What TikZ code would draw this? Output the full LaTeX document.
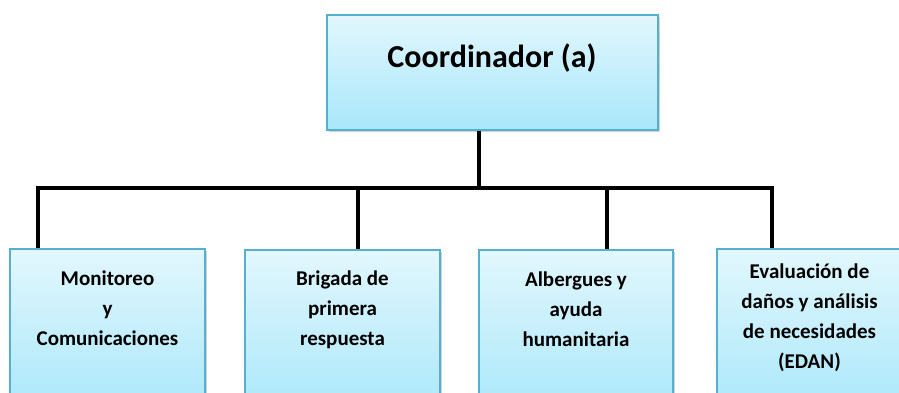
\documentclass[tikz,border=0pt]{standalone}
\usepackage{fontspec}
\setmainfont{Carlito}
\usetikzlibrary{shadows}
\definecolor{cajaarriba}{RGB}{226,247,253}
\definecolor{cajaabajo}{RGB}{168,231,250}
\definecolor{borde}{RGB}{84,176,204}
\tikzset{
  caja/.style={draw=borde, line width=1.2pt, top color=cajaarriba, bottom color=cajaabajo,
    drop shadow={opacity=0.35, shadow xshift=2pt, shadow yshift=-2pt}, inner sep=0pt},
  texto/.style={align=center, inner sep=0pt, font=\bfseries\fontsize{21}{30}\selectfont},
  linea/.style={line width=4.5pt, line join=miter}
}
\begin{document}
\begin{tikzpicture}[x=1pt,y=-1pt]
\clip (0,0) rectangle (899,392);
\fill[white] (0,0) rectangle (899,392);
% cajas
\node[caja, minimum width=331pt, minimum height=115pt] (coord) at (492.5,72.5) {};
\node[font=\bfseries\fontsize{32}{38}\selectfont, inner sep=0pt] (tcoord) at (492,58) {Coordinador (a)};
\node[caja, minimum width=195pt, minimum height=170pt] (mon) at (107.5,334) {};
\node[caja, minimum width=195pt, minimum height=170pt] (brig) at (342.5,335) {};
\node[caja, minimum width=194pt, minimum height=170pt] (alb) at (576,335) {};
\node[caja, minimum width=185pt, minimum height=170pt] (edan) at (809.5,334) {};
% textos
\node[texto] (tmon) at (107.5,308) {Monitoreo\\y\\Comunicaciones};
\node[texto] (tbrig) at (342.5,310) {Brigada de\\primera\\respuesta};
\node[texto] (talb) at (576,309) {Albergues y\\ayuda\\humanitaria};
\node[texto] (tedan) at (809.5,318) {Evaluación de\\daños y análisis\\de necesidades\\(EDAN)};
% lineas
\coordinate (b0) at (479,188);
\coordinate (b1) at (38,188);
\coordinate (b2) at (358,188);
\coordinate (b3) at (607,188);
\coordinate (b4) at (772,188);
\draw[linea] (b0|-coord.south) -- (b0);
\draw[linea] (b1|-mon.north) -- (b1) -- (b4) -- (b4|-edan.north);
\draw[linea] (b2) -- (b2|-brig.north);
\draw[linea] (b3) -- (b3|-alb.north);
\end{tikzpicture}
\end{document}
